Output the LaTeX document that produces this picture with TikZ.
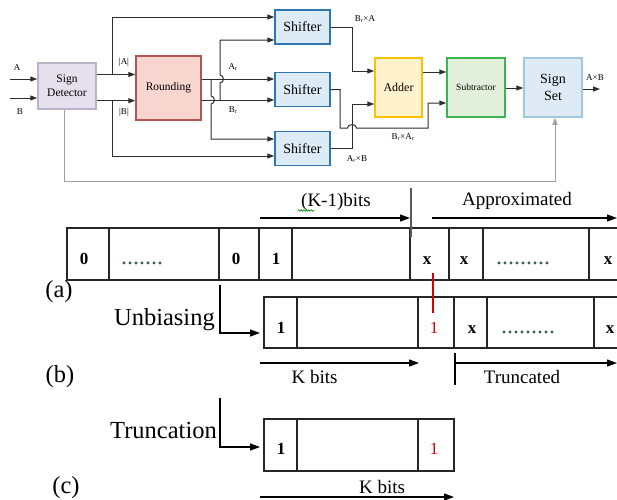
\documentclass[tikz,border=0pt]{standalone}
\usepackage{fontspec}
\setmainfont{Liberation Serif}
\usetikzlibrary{arrows.meta,decorations.pathmorphing}

\definecolor{sdfill}{RGB}{229,224,236}
\definecolor{sddraw}{RGB}{185,178,200}
\definecolor{rdfill}{RGB}{248,213,207}
\definecolor{rddraw}{RGB}{184,84,80}
\definecolor{shfill}{RGB}{221,235,247}
\definecolor{shdraw}{RGB}{46,117,182}
\definecolor{adfill}{RGB}{255,242,204}
\definecolor{addraw}{RGB}{255,192,0}
\definecolor{sbfill}{RGB}{226,239,218}
\definecolor{sbdraw}{RGB}{60,180,80}
\definecolor{ssfill}{RGB}{222,235,247}
\definecolor{ssdraw}{RGB}{160,200,225}
\definecolor{wirec}{RGB}{45,45,45}
\definecolor{dotc}{RGB}{60,95,90}

\tikzset{
  blk/.style={draw, line width=1.5pt, inner sep=0pt, align=center},
  sdbox/.style={blk, fill=sdfill, draw=sddraw, minimum width=58pt, minimum height=46pt, font=\fontsize{11.5}{14}\selectfont},
  rdbox/.style={blk, fill=rdfill, draw=rddraw, minimum width=65pt, minimum height=64pt, font=\fontsize{11.5}{13}\selectfont},
  shbox/.style={blk, fill=shfill, draw=shdraw, minimum width=55pt, minimum height=34pt, font=\fontsize{14}{16}\selectfont},
  adbox/.style={blk, fill=adfill, draw=addraw, minimum width=47pt, minimum height=59pt, font=\fontsize{12}{14}\selectfont},
  sbbox/.style={blk, fill=sbfill, draw=sbdraw, minimum width=58pt, minimum height=59pt, font=\fontsize{9.5}{11}\selectfont},
  ssbox/.style={blk, fill=ssfill, draw=ssdraw, minimum width=58pt, minimum height=59pt, font=\fontsize{14}{17}\selectfont},
  wire/.style={draw=wirec, line width=1pt},
  warr/.style={wire, -{Triangle[length=7pt,width=5pt]}},
  lbl/.style={font=\fontsize{9}{10}\selectfont, inner sep=0pt},
  bitcell/.style={draw=black!85, line width=1.2pt, inner sep=0pt},
  bit/.style={font=\fontsize{17}{17}\bfseries\selectfont, anchor=base, inner sep=0pt},
  redbit/.style={font=\fontsize{17}{17}\selectfont, anchor=base, inner sep=0pt, text=red!85!black},
  dotstxt/.style={font=\fontsize{24}{24}\selectfont, anchor=base west, inner sep=0pt, text=dotc},
  txtbig/.style={font=\fontsize{19}{21}\selectfont, inner sep=0pt},
  txthuge/.style={font=\fontsize{24.5}{27}\selectfont, inner sep=0pt},
  barr/.style={line width=1.2pt, -{Triangle[length=10pt,width=7pt]}},
}

\begin{document}
\begin{tikzpicture}[x=1pt, y=-1pt]
\useasboundingbox (0,0) rectangle (617,499);
\clip (0,0) rectangle (617,499);

% ---------------- top block diagram ----------------
\node[sdbox] (sd) at (67,86) {Sign\\Detector};
\node[rdbox] (rnd) at (168.5,88) {Rounding};
\node[shbox] (sh1) at (302.5,27) {Shifter};
\node[shbox] (sh2) at (302.5,89.5) {Shifter};
\node[shbox] (sh3) at (302.5,148.5) {Shifter};
\node[adbox] (add) at (398.5,87.5) {Adder};
\node[sbbox] (sub) at (476,87.5) {Subtractor};
\node[ssbox] (ss) at (553,87.5) {Sign\\Set};

% inputs
\coordinate (inA) at (10,79);
\coordinate (inB) at (10,98);
\draw[warr] (inA) -- (inA -| sd.west);
\draw[warr] (inB) -- (inB -| sd.west);
\node[lbl] (lA) at (17,68) {A};
\node[lbl] (lB) at (20,112) {B};

% |A| and |B|
\coordinate (jA) at (112,74.5);
\coordinate (jB) at (112,100.7);
\coordinate (tA) at (112,17);
\coordinate (tB) at (112,156);
\draw[warr] (sd.east |- jA) -- (jA -| rnd.west);
\draw[warr] (sd.east |- jB) -- (jB -| rnd.west);
\draw[warr] (jA) -- (tA) -- (tA -| sh1.west);
\draw[warr] (jB) -- (tB) -- (tB -| sh3.west);
\node[lbl] (lAa) at (124,62) {|A|};
\node[lbl] (lBb) at (124,112) {|B|};

% Ar and Br
\coordinate (yAr) at (0,79);
\coordinate (yBr) at (0,100);
\draw[warr] (rnd.east |- yAr) -- (sh2.west |- yAr);
\draw[warr] (rnd.east |- yBr) -- (sh2.west |- yBr);
\coordinate (ar3) at (211,139);
\draw[warr] (211,79) -- (211,96) .. controls (215.5,96) and (215.5,104) .. (211,104) -- (ar3) -- (ar3 -| sh3.west);
\coordinate (br1) at (220,40);
\draw[warr] (220,100) -- (220,83) .. controls (224.5,83) and (224.5,75) .. (220,75) -- (br1) -- (br1 -| sh1.west);
\node[lbl] (lAr) at (233,67) {A\textsubscript{r}};
\node[lbl] (lBr) at (233,110) {B\textsubscript{r}};

% shifter outputs
\coordinate (a1) at (352,71);
\coordinate (a2) at (352,104);
\draw[warr] (sh1.east) -- (sh1.east -| a1) -- (a1) -- (a1 -| add.west);
\draw[warr] (sh3.east) -- (sh3.east -| a2) -- (a2) -- (a2 -| add.west);
\coordinate (s2) at (428,103);
\draw[warr] (sh2.east) -- (340,89.5) -- (340,128) -- (347.5,128) .. controls (347.5,123.5) and (356.5,123.5) .. (356.5,128) -- (428,128) -- (s2) -- (s2 -| sub.west);
\node[lbl] (l1) at (365,19) {B\textsubscript{r}×A};
\node[lbl] (l2) at (357,159) {A\textsubscript{r}×B};
\node[lbl] (l3) at (403,137) {B\textsubscript{r}×A\textsubscript{r}};

\coordinate (y72) at (0,72);
\coordinate (y88) at (0,88);
\draw[warr] (add.east |- y72) -- (sub.west |- y72);
\draw[warr] (sub.east |- y88) -- (ss.west |- y88);
\coordinate (outp) at (600,89);
\draw[warr] (ss.east |- outp) -- (outp);
\node[lbl] (l4) at (595,78) {A×B};

% sign line
\coordinate (sg1) at (64,181);
\coordinate (sg2) at (555,181);
\draw[warr, draw=gray!75] (sd.south -| sg1) -- (sg1) -- (sg2) -- (ss.south -| sg2);

% ---------------- bottom bit rows ----------------
% row (a)
\node[bitcell, minimum width=42pt, minimum height=52pt] (ra1) at (88,254) {};
\node[bitcell, minimum width=110pt, minimum height=52pt] (ra2) at (164,254) {};
\node[bitcell, minimum width=40pt, minimum height=52pt] (ra3) at (239,254) {};
\node[bitcell, minimum width=33pt, minimum height=52pt] (ra4) at (275.5,254) {};
\node[bitcell, minimum width=118pt, minimum height=52pt] (ra5) at (351,254) {};
\node[bitcell, minimum width=39pt, minimum height=52pt] (ra6) at (429.5,254) {};
\node[bitcell, minimum width=34pt, minimum height=52pt] (ra7) at (466,254) {};
\node[bitcell, minimum width=106pt, minimum height=52pt] (ra8) at (536,254) {};
\node[bitcell, minimum width=38pt, minimum height=52pt] (ra9) at (608,254) {};
\node[bit] (ta1) at (84,264) {0};
\node[dotstxt] (ta2) at (121,264) {.......};
\node[bit] (ta3) at (236,264) {0};
\node[bit] (ta4) at (276,264) {1};
\node[bit] (ta6) at (427,264) {x};
\node[bit] (ta7) at (464,264) {x};
\node[dotstxt] (ta8) at (496,264) {.........};
\node[bit] (ta9) at (608,264) {x};

% row (b)
\node[bitcell, minimum width=33pt, minimum height=51pt] (rb1) at (280.5,322.5) {};
\node[bitcell, minimum width=121pt, minimum height=51pt] (rb2) at (357.5,322.5) {};
\node[bitcell, minimum width=36pt, minimum height=51pt] (rb3) at (436,322.5) {};
\node[bitcell, minimum width=33pt, minimum height=51pt] (rb4) at (470.5,322.5) {};
\node[bitcell, minimum width=107pt, minimum height=51pt] (rb5) at (540.5,322.5) {};
\node[bitcell, minimum width=32pt, minimum height=51pt] (rb6) at (610,322.5) {};
\node[bit] (tb1) at (281,333) {1};
\node[redbit] (tb3) at (434,333) {1};
\node[bit] (tb4) at (472,333) {x};
\node[dotstxt] (tb5) at (501,333) {.........};
\node[bit] (tb6) at (610,333) {x};

% row (c)
\node[bitcell, minimum width=33pt, minimum height=52pt] (rc1) at (280.5,445) {};
\node[bitcell, minimum width=121pt, minimum height=52pt] (rc2) at (357.5,445) {};
\node[bitcell, minimum width=36pt, minimum height=52pt] (rc3) at (436,445) {};
\node[bit] (tc1) at (281,454) {1};
\node[redbit] (tc3) at (434,454) {1};

% (K-1)bits and Approximated
\coordinate (k1s) at (260,218);
\coordinate (k1e) at (410,218);
\draw[barr] (k1s) -- (k1e);
\coordinate (mk1) at (411,188);
\coordinate (mk2) at (411,237);
\draw[line width=1.8pt, gray!70!black] (mk1) -- (mk2);
\node[txtbig] (lk1) at (336,202) {(K-1)bits};
\draw[green!55!black, line width=0.6pt, decorate, decoration={snake, amplitude=0.8pt, segment length=2.5pt}] (298,210.5) -- (314,210.5);
\node[txtbig] (lapp) at (517,201) {Approximated};
\coordinate (aps) at (432,218);
\coordinate (ape) at (617,218);
\draw[barr] (aps) -- (ape);

% red marker
\coordinate (rl1) at (433,273);
\coordinate (rl2) at (433,313);
\draw[red!85!black, line width=1.3pt] (rl1) -- (rl2);

% Unbiasing
\coordinate (u1) at (220,285);
\coordinate (u2) at (220,333);
\coordinate (u3) at (260,333);
\draw[barr] (u1) -- (u2) -- (u3);
\node[txthuge, anchor=east] (lunb) at (215,320) {Unbiasing};

% K bits (b) and Truncated
\coordinate (kbs) at (260,363);
\coordinate (kbe) at (419,363);
\draw[barr] (kbs) -- (kbe);
\node[txtbig] (lkb) at (314.5,377) {K bits};
\coordinate (tm1) at (455,353);
\coordinate (tm2) at (455,385);
\coordinate (tm3) at (455,363);
\coordinate (tm4) at (617,363);
\draw[line width=1.2pt] (tm1) -- (tm2);
\draw[barr] (tm3) -- (tm4);
\node[txtbig] (ltr) at (522,377) {Truncated};

% Truncation
\coordinate (v1) at (220,398);
\coordinate (v2) at (220,447);
\coordinate (v3) at (260,447);
\draw[barr] (v1) -- (v2) -- (v3);
\node[txthuge, anchor=east] (ltrc) at (217,430) {Truncation};

% K bits (c)
\coordinate (kcs) at (260,497);
\coordinate (kce) at (454,497);
\draw[barr] (kcs) -- (kce);
\node[txtbig] (lkc) at (382,487) {K bits};

% labels (a) (b) (c)
\node[txthuge] (la) at (59,292) {(a)};
\node[txthuge] (lb) at (60,377) {(b)};
\node[txthuge] (lc) at (66,488) {(c)};
\end{tikzpicture}
\end{document}
